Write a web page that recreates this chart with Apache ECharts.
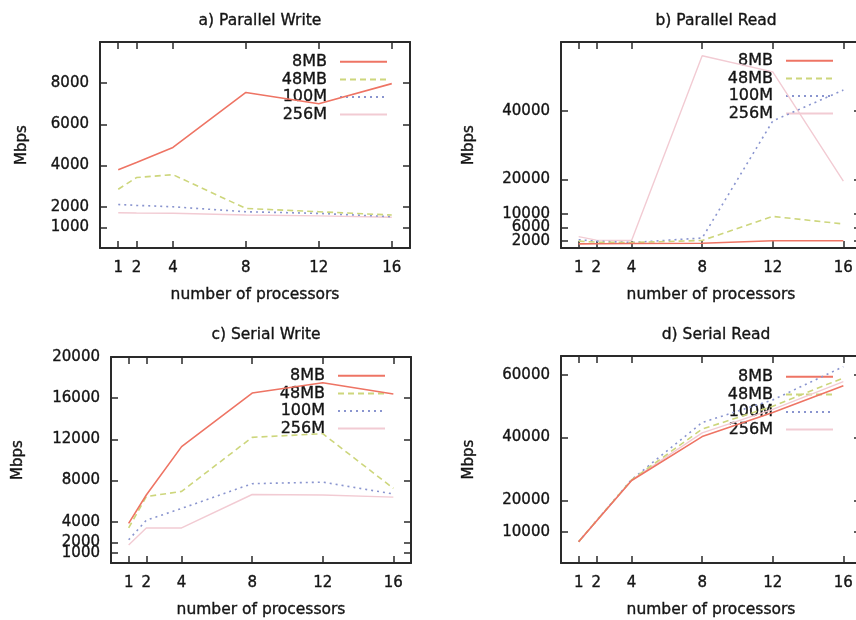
<!DOCTYPE html>
<html>
<head>
<meta charset="utf-8">
<script src="https://cdn.jsdelivr.net/npm/echarts@6/dist/echarts.min.js"></script>
<style>
  html, body { margin: 0; padding: 0; background: #fff; }
  #chart { width: 856px; height: 620px; }
</style>
</head>
<body>
<div id="chart"></div>
<script>
// x values (number of processors) and legend names
const procs = [1, 2, 4, 8, 12, 16];
const sizeNames = ['8MB', '48MB', '100M', '256M'];

// a) Parallel Write
const parWrite8 = [3800, 4150, 4880, 7550, 7000, 7980];
const parWrite48 = [2850, 3420, 3560, 1920, 1760, 1600];
const parWrite100 = [2110, 2070, 2000, 1760, 1680, 1520];
const parWrite256 = [1710, 1700, 1690, 1600, 1560, 1490];

// b) Parallel Read
const parRead8 = [1200, 1250, 1300, 1400, 2100, 2100];
const parRead48 = [2000, 1700, 1600, 2200, 9200, 7000];
const parRead100 = [2400, 2000, 1600, 2900, 37000, 46000];
const parRead256 = [3300, 2300, 2200, 56000, 51300, 19500];

// c) Serial Write
const serWrite8 = [3850, 6600, 11300, 16500, 17500, 16400];
const serWrite48 = [3400, 6450, 6950, 12200, 12550, 7250];
const serWrite100 = [2250, 4150, 5300, 7700, 7850, 6700];
const serWrite256 = [1750, 3400, 3400, 6650, 6600, 6400];

// d) Serial Read
const serRead8 = [6800, 13300, 26300, 40300, 48000, 56500];
const serRead48 = [6800, 13400, 26500, 42700, 50000, 59000];
const serRead100 = [6800, 13400, 26600, 44800, 52000, 62600];
const serRead256 = [6800, 13300, 26400, 41500, 49000, 57800];

// tick labels (top label listed first so the min/max overlap check
// does not drop the tightly packed low labels)
const xTicks = [1, 2, 4, 8, 12, 16];
const yTicksA = [8000, 1000, 2000, 4000, 6000];
const yTicksB = [40000, 2000, 6000, 10000, 20000];
const yTicksC = [20000, 1000, 2000, 4000, 8000, 12000, 16000];
const yTicksD = [60000, 10000, 20000, 40000];

const titles = ['a) Parallel Write', 'b) Parallel Read', 'c) Serial Write', 'd) Serial Read'];

const font = 'DejaVu Sans';
const ink = '#141414';
const boxColor = '#2a2a2a';

const lineStyles = [
  { color: '#ee7464', width: 1.6, type: 'solid' },
  { color: '#cdd67c', width: 1.6, type: [6, 4] },
  { color: '#8a95cf', width: 1.6, type: [2, 4] },
  { color: '#f2cbd3', width: 1.4, type: 'solid' },
];

const panels = [
  { grid: { left: 100, top: 42, width: 310, height: 206 }, yMax: 10000, yTicks: yTicksA, nameGap: 70,
    title: { x: 255, y: 8 }, legend: { right: 463, top: 48 },
    data: [parWrite8, parWrite48, parWrite100, parWrite256] },
  { grid: { left: 561, top: 42, width: 300, height: 206 }, yMax: 60000, yTicks: yTicksB, nameGap: 84,
    title: { x: 711, y: 8 }, legend: { right: 17, top: 47 },
    data: [parRead8, parRead48, parRead100, parRead256] },
  { grid: { left: 111, top: 357, width: 300, height: 206 }, yMax: 20000, yTicks: yTicksC, nameGap: 85,
    title: { x: 261, y: 322 }, legend: { right: 465, top: 362 },
    data: [serWrite8, serWrite48, serWrite100, serWrite256] },
  { grid: { left: 561, top: 356, width: 300, height: 207 }, yMax: 66000, yTicks: yTicksD, nameGap: 84,
    title: { x: 711, y: 322 }, legend: { right: 17, top: 363 },
    data: [serRead8, serRead48, serRead100, serRead256] },
];

const axisLine = { show: true, onZero: false, lineStyle: { color: boxColor, width: 2 } };
const tickStyle = { color: boxColor, width: 1.5 };
const plain = (v) => String(v);
// scanned text in the original looks heavier than a plain regular face
const heavy = { textBorderColor: ink, textBorderWidth: 0.35 };

const grid = [];
const xAxis = [];
const yAxis = [];
const series = [];
const title = [];
const legend = [];

panels.forEach((p, i) => {
  grid.push(Object.assign({ outerBoundsMode: 'none', containLabel: false }, p.grid));

  title.push({
    text: titles[i],
    left: p.title.x,
    top: p.title.y,
    textAlign: 'center',
    textStyle: Object.assign({ fontFamily: font, fontSize: 15.5, fontWeight: 'normal', color: ink }, heavy),
  });

  // bottom axis with labels
  xAxis.push({
    gridIndex: i, type: 'value', min: 0, max: 17, position: 'bottom',
    name: 'number of processors', nameLocation: 'middle', nameGap: 39,
    nameTextStyle: Object.assign({ fontFamily: font, fontSize: 15.5, color: ink }, heavy),
    axisLine: axisLine,
    axisTick: { show: true, inside: true, length: 7, customValues: xTicks, lineStyle: tickStyle },
    axisLabel: Object.assign({ customValues: xTicks, margin: 13, fontFamily: font, fontSize: 15, color: ink,
      formatter: plain, showMinLabel: true, showMaxLabel: true }, heavy),
    splitLine: { show: false },
  });
  // mirrored top axis
  xAxis.push({
    gridIndex: i, type: 'value', min: 0, max: 17, position: 'top',
    axisLine: axisLine,
    axisTick: { show: true, inside: true, length: 7, customValues: xTicks, lineStyle: tickStyle },
    axisLabel: { show: false },
    splitLine: { show: false },
  });

  yAxis.push({
    gridIndex: i, type: 'value', min: 0, max: p.yMax, position: 'left',
    name: 'Mbps', nameLocation: 'middle', nameGap: p.nameGap,
    nameTextStyle: Object.assign({ fontFamily: font, fontSize: 15, color: ink }, heavy),
    axisLine: axisLine,
    axisTick: { show: true, inside: true, length: 7, customValues: p.yTicks, lineStyle: tickStyle },
    axisLabel: Object.assign({ customValues: p.yTicks, margin: 11, fontFamily: font, fontSize: 15,
      color: ink, formatter: plain, showMinLabel: true, showMaxLabel: true, hideOverlap: false }, heavy),
    splitLine: { show: false },
  });
  // mirrored right axis
  yAxis.push({
    gridIndex: i, type: 'value', min: 0, max: p.yMax, position: 'right',
    axisLine: axisLine,
    axisTick: { show: true, inside: true, length: 7, customValues: p.yTicks, lineStyle: tickStyle },
    axisLabel: { show: false },
    splitLine: { show: false },
  });

  p.data.forEach((vals, k) => {
    series.push({
      type: 'line',
      name: sizeNames[k],
      xAxisIndex: i * 2,
      yAxisIndex: i * 2,
      data: procs.map((x, j) => [x, vals[j]]),
      symbol: 'none',
      silent: true,
      lineStyle: lineStyles[k],
      itemStyle: { color: lineStyles[k].color },
      z: 10 - k,
    });
  });

  legend.push({
    orient: 'vertical',
    right: p.legend.right,
    top: p.legend.top,
    align: 'right',
    selectedMode: false,
    itemWidth: 47,
    itemHeight: 10,
    itemGap: 0,
    itemStyle: { opacity: 0 },
    data: sizeNames,
    textStyle: Object.assign({ fontFamily: font, fontSize: 16, lineHeight: 17.6, color: ink, padding: [0, 8, 0, 0] }, heavy),
  });
});

const chart = echarts.init(document.getElementById('chart'), null, { renderer: 'canvas' });
chart.setOption({
  animation: false,
  backgroundColor: '#ffffff',
  title: title,
  legend: legend,
  grid: grid,
  xAxis: xAxis,
  yAxis: yAxis,
  series: series,
});
</script>
</body>
</html>
